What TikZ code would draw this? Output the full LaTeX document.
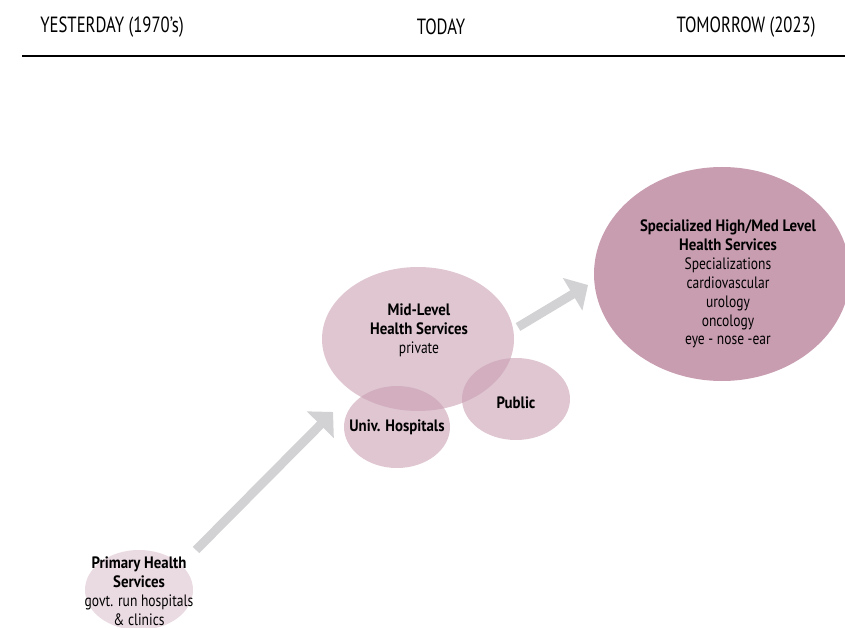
\documentclass[tikz,border=0pt]{standalone}
\usepackage{fontspec}
\setmainfont{PT Sans}[FakeStretch=0.82, BoldFeatures={FakeStretch=0.90}]
\newfontfamily\headfont{PT Sans}[FakeStretch=0.76]
\usetikzlibrary{arrows.meta}
\definecolor{mauve}{RGB}{200,157,176}
\definecolor{flow}{RGB}{210,210,212}
\tikzset{
  header/.style={font=\headfont\fontsize{22}{24}\selectfont, anchor=center},
  bubbletext/.style={align=center, inner sep=0pt, font=\fontsize{16.5}{18.9}\selectfont},
  growth/.style={draw=flow, line width=9pt, -{Triangle[width=37pt,length=18pt]}},
}
\begin{document}
\begin{tikzpicture}[x=1pt,y=-1pt]
  \useasboundingbox (0,0) rectangle (845,628);
  \clip (0,0) rectangle (845,628);

  % timeline header
  \node[header] (past) at (112,27) {YESTERDAY (1970’s)};
  \node[header] (now) at (441,27) {TODAY};
  \node[header] (future) at (746,27) {TOMORROW (2023)};
  \draw[line width=1.3pt] (22,56) -- (845,56);

  % service levels
  \fill[mauve, opacity=0.38] (139,590) ellipse [x radius=54, y radius=40];
  \fill[mauve, opacity=0.58] (418,339) ellipse [x radius=96, y radius=72];
  \fill[mauve, opacity=0.58] (397,427) ellipse [x radius=53, y radius=41];
  \fill[mauve, opacity=0.58] (516,399) ellipse [x radius=54, y radius=41];
  \fill[mauve] (722,274) ellipse [x radius=128, y radius=107];

  \node[bubbletext] (primary) at (139,591)
    {\textbf{Primary Health}\\\textbf{Services}\\govt. run hospitals\\\& clinics};
  \node[bubbletext] (mid) at (419,330)
    {\textbf{Mid-Level}\\\textbf{Health Services}\\private};
  \node[bubbletext] (univ) at (397,427) {\textbf{Univ. Hospitals}};
  \node[bubbletext] (public) at (516,403) {\textbf{Public}};
  \node[bubbletext] (special) at (728,284)
    {\textbf{Specialized High/Med Level}\\\textbf{Health Services}\\Specializations\\cardiovascular\\urology\\oncology\\eye - nose -ear};

  % growth arrows
  \coordinate (g1s) at (196,550);
  \coordinate (g1e) at (333,412);
  \coordinate (g2s) at (518,327);
  \coordinate (g2e) at (588,285);
  \draw[growth] (g1s) -- (g1e);
  \draw[growth] (g2s) -- (g2e);
\end{tikzpicture}
\end{document}
